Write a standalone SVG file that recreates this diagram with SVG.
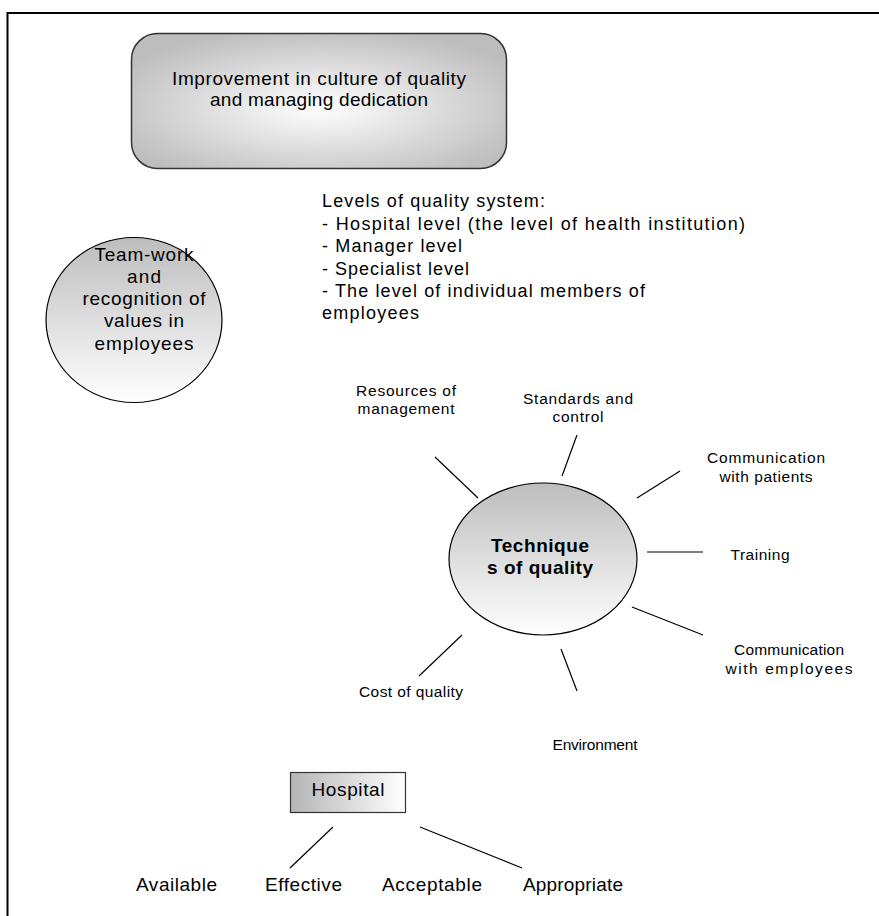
<svg xmlns="http://www.w3.org/2000/svg" width="879" height="916" viewBox="0 0 879 916">
<style>
text{font-family:"Liberation Sans",Arial,sans-serif;fill:#000}
.t18{font-size:19px}
.t16{font-size:18px}
.t14{font-size:15.5px}
.mid{text-anchor:middle}
.ln{stroke:#000;stroke-width:1.2;fill:none}
</style>
<defs>
<radialGradient id="gRect" cx="50%" cy="55%" r="60%">
<stop offset="0" stop-color="#ffffff"/>
<stop offset="1" stop-color="#bdbdbd"/>
</radialGradient>
<linearGradient id="gV" x1="0" y1="0" x2="0" y2="1">
<stop offset="0" stop-color="#bdbdbd"/>
<stop offset="1" stop-color="#ffffff"/>
</linearGradient>
<linearGradient id="gH" x1="0" y1="0" x2="1" y2="0">
<stop offset="0" stop-color="#b5b5b5"/>
<stop offset="1" stop-color="#ffffff"/>
</linearGradient>
</defs>
<g id="frame">
<line x1="7" y1="13" x2="879" y2="13" stroke="#000" stroke-width="2"/>
<line x1="7.5" y1="12" x2="7.5" y2="916" stroke="#000" stroke-width="2"/>
</g>
<g id="culture">
<rect x="131.5" y="33.5" width="375" height="135" rx="26" ry="26" fill="url(#gRect)" stroke="#333" stroke-width="1.5"/>
<text class="t18 mid" x="319" y="85" textLength="294" lengthAdjust="spacing">Improvement in culture of quality</text>
<text class="t18 mid" x="319" y="106" textLength="218" lengthAdjust="spacing">and managing dedication</text>
</g>
<g id="teamwork">
<ellipse cx="134" cy="320" rx="88" ry="82.5" fill="url(#gV)" stroke="#000" stroke-width="1.2"/>
<text class="t18 mid" x="144" y="261" textLength="99" lengthAdjust="spacing">Team-work</text>
<text class="t18 mid" x="144" y="283" textLength="34" lengthAdjust="spacing">and</text>
<text class="t18 mid" x="144" y="305" textLength="123" lengthAdjust="spacing">recognition of</text>
<text class="t18 mid" x="144" y="327" textLength="80" lengthAdjust="spacing">values in</text>
<text class="t18 mid" x="144" y="350" textLength="99" lengthAdjust="spacing">employees</text>
</g>
<g id="levels">
<text class="t16" x="322" y="207" textLength="223" lengthAdjust="spacing">Levels of quality system:</text>
<text class="t16" x="322" y="229.5" textLength="423" lengthAdjust="spacing">- Hospital level (the level of health institution)</text>
<text class="t16" x="322" y="252" textLength="140" lengthAdjust="spacing">- Manager level</text>
<text class="t16" x="322" y="274.5" textLength="147" lengthAdjust="spacing">- Specialist level</text>
<text class="t16" x="322" y="297" textLength="323" lengthAdjust="spacing">- The level of individual members of</text>
<text class="t16" x="322" y="319" textLength="97" lengthAdjust="spacing">employees</text>
</g>
<g id="techniques">
<ellipse cx="543" cy="559" rx="94" ry="76" fill="url(#gV)" stroke="#000" stroke-width="1.2"/>
<text class="t18 mid" x="540" y="552" font-weight="bold" textLength="98" lengthAdjust="spacing">Technique</text>
<text class="t18 mid" x="540" y="574" font-weight="bold" textLength="106" lengthAdjust="spacing">s of quality</text>
</g>
<g id="lbl-resources">
<text class="t14 mid" x="406" y="396" textLength="100" lengthAdjust="spacing">Resources of</text>
<text class="t14 mid" x="406" y="414" textLength="97" lengthAdjust="spacing">management</text>
</g>
<g id="lbl-standards">
<text class="t14 mid" x="578" y="404" textLength="110" lengthAdjust="spacing">Standards and</text>
<text class="t14 mid" x="578" y="422" textLength="51" lengthAdjust="spacing">control</text>
</g>
<g id="lbl-patients">
<text class="t14 mid" x="766" y="463" textLength="118" lengthAdjust="spacing">Communication</text>
<text class="t14 mid" x="766" y="482" textLength="93" lengthAdjust="spacing">with patients</text>
</g>
<g id="lbl-training">
<text class="t14 mid" x="760" y="560" textLength="59" lengthAdjust="spacing">Training</text>
</g>
<g id="lbl-employees">
<text class="t14 mid" x="789" y="655" textLength="110" lengthAdjust="spacing">Communication</text>
<text class="t14 mid" x="789" y="674" textLength="127" lengthAdjust="spacing">with employees</text>
</g>
<g id="lbl-environment">
<text class="t14 mid" x="595" y="750" textLength="85" lengthAdjust="spacing">Environment</text>
</g>
<g id="lbl-cost">
<text class="t14 mid" x="411" y="697" textLength="104" lengthAdjust="spacing">Cost of quality</text>
</g>
<g id="hospital">
<rect x="290.5" y="772.5" width="115" height="40" fill="url(#gH)" stroke="#333" stroke-width="1.2"/>
<text class="t18 mid" x="348" y="796" textLength="73" lengthAdjust="spacing">Hospital</text>
</g>
<g id="lbl-bottom">
<text class="t18" x="136" y="891" textLength="81" lengthAdjust="spacing">Available</text>
<text class="t18" x="265" y="891" textLength="77" lengthAdjust="spacing">Effective</text>
<text class="t18" x="382" y="891" textLength="100" lengthAdjust="spacing">Acceptable</text>
<text class="t18" x="523" y="891" textLength="100" lengthAdjust="spacing">Appropriate</text>
</g>
<g id="connectors" class="ln">
<line x1="435" y1="457" x2="478" y2="498"/>
<line x1="577" y1="435" x2="562" y2="476"/>
<line x1="680" y1="471" x2="637" y2="498"/>
<line x1="647" y1="552" x2="703" y2="552"/>
<line x1="632" y1="607" x2="703" y2="635"/>
<line x1="561" y1="649" x2="577" y2="691"/>
<line x1="462" y1="635" x2="419" y2="676"/>
<line x1="333" y1="827" x2="290" y2="868"/>
<line x1="420" y1="827" x2="522" y2="868"/>
</g>
</svg>
